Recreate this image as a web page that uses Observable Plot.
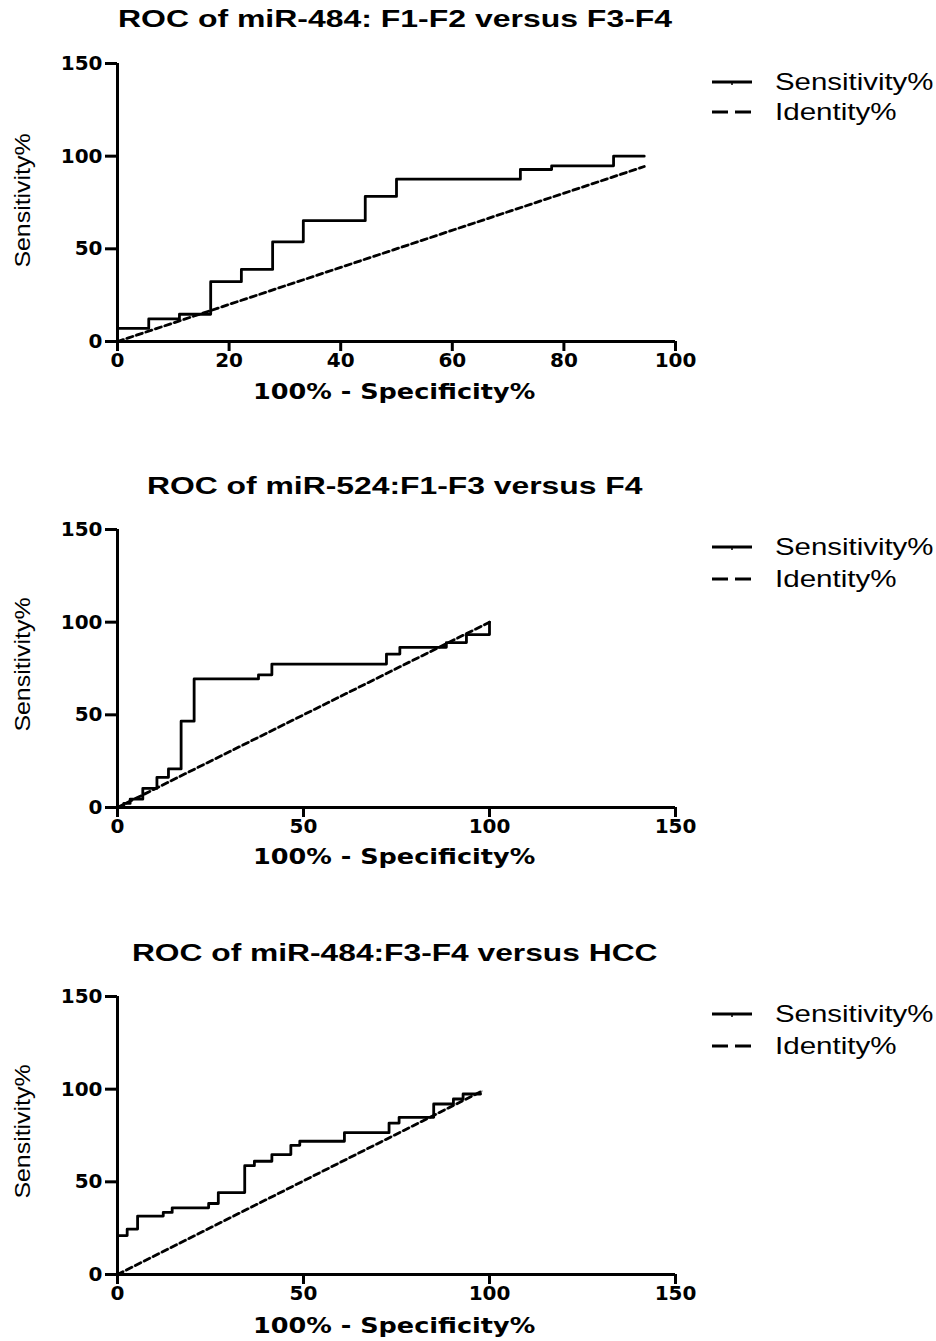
<!DOCTYPE html>
<html><head><meta charset="utf-8">
<script src="https://cdn.jsdelivr.net/npm/d3@7"></script>
<script src="https://cdn.jsdelivr.net/npm/@observablehq/plot@0.6"></script>
<style>
body{margin:0;background:#fff;}
#root{position:relative;width:936px;height:1341px;overflow:hidden;background:#fff;}
.plot{position:absolute;left:0;}
.lbl{position:absolute;white-space:nowrap;line-height:1;color:#000;}
</style></head><body><div id="root"></div>
<script>
// ---------- data ----------
const titles = [
  "ROC of miR-484: F1-F2 versus F3-F4",
  "ROC of miR-524:F1-F3 versus F4",
  "ROC of miR-484:F3-F4 versus HCC"
];
const xLabel = "100% - Specificity%";
const yLabel = "Sensitivity%";
const legendLabels = ["Sensitivity%", "Identity%"];
const xTicks1 = [0, 20, 40, 60, 80, 100];
const xTicks23 = [0, 50, 100, 150];
const yTicks = [0, 50, 100, 150];

const sens1X = [0, 0, 5.6, 11.1, 16.7, 22.2, 27.8, 33.3, 44.4, 50.0, 72.2, 77.8, 88.9, 94.4];
const sens1Y = [0, 7.1, 12.2, 14.7, 32.3, 38.9, 53.8, 65.2, 78.3, 87.6, 92.8, 94.8, 100, 100];
const ident1X = [0, 94.4];
const ident1Y = [0, 94.4];

const sens2X = [0, 1.7, 3.4, 6.8, 10.6, 13.7, 17.1, 20.6, 37.9, 41.5, 72.3, 75.9, 88.4, 93.8, 100, 100];
const sens2Y = [0, 2.2, 4.5, 10.3, 16.3, 20.8, 46.6, 69.4, 71.6, 77.4, 82.8, 86.4, 89.0, 93.3, 93.3, 100];
const ident2X = [0, 100];
const ident2Y = [0, 100];

const sens3X = [0, 0, 2.6, 5.4, 12.3, 14.7, 24.5, 27.1, 34.2, 36.8, 41.5, 46.6, 49.0, 61.0, 73.0, 75.7, 85.0, 90.3, 92.9, 97.6];
const sens3Y = [0, 21.0, 24.5, 31.5, 33.5, 36.0, 38.3, 44.2, 58.7, 61.1, 64.7, 69.7, 71.9, 76.5, 81.7, 84.8, 92.0, 94.7, 97.4, 97.4];
const ident3X = [0, 98];
const ident3Y = [0, 99];

// ---------- layout ----------
const panels = [
  {sx: sens1X, sy: sens1Y, ix: ident1X, iy: ident1Y, xMax: 100, xTicks: xTicks1,
   top: 33, titleY: 19, titleX: [118, 672], xLabelY: 392, yLabelY: 200, legY: [82, 112]},
  {sx: sens2X, sy: sens2Y, ix: ident2X, iy: ident2Y, xMax: 150, xTicks: xTicks23,
   top: 499, titleY: 486, titleX: [147, 642], xLabelY: 857, yLabelY: 664, legY: [547, 579]},
  {sx: sens3X, sy: sens3Y, ix: ident3X, iy: ident3Y, xMax: 150, xTicks: xTicks23,
   top: 966, titleY: 953, titleX: [132, 657], xLabelY: 1326, yLabelY: 1131, legY: [1014, 1046]}
];

const root = document.getElementById("root");

function addLabel(text, opts) {
  const d = document.createElement("div");
  d.className = "lbl";
  d.textContent = text;
  d.style.fontFamily = opts.font;
  d.style.fontSize = opts.size + "px";
  d.style.fontWeight = opts.weight || "normal";
  root.appendChild(d);
  const w = d.offsetWidth, h = d.offsetHeight;
  const s = opts.width ? opts.width / w : 1;
  const sy = opts.sy || 1;
  if (opts.rotate) {
    d.style.left = (opts.cx - w / 2) + "px";
    d.style.top = (opts.cy - h / 2) + "px";
    d.style.transform = `rotate(-90deg) scale(${s}, ${sy})`;
  } else if (opts.anchor === "start") {
    d.style.left = opts.x + "px";
    d.style.top = (opts.cy - h / 2) + "px";
    d.style.transformOrigin = "left center";
    d.style.transform = `scale(${s}, ${sy})`;
  } else {
    d.style.left = (opts.cx - w / 2) + "px";
    d.style.top = (opts.cy - h / 2) + "px";
    d.style.transform = `scale(${s}, ${sy})`;
  }
  return d;
}

function legendSample(y, dashed) {
  const ns = "http://www.w3.org/2000/svg";
  const svg = document.createElementNS(ns, "svg");
  svg.setAttribute("width", 50); svg.setAttribute("height", 12);
  svg.style.position = "absolute";
  svg.style.left = "708px";
  svg.style.top = (y - 6) + "px";
  const line = document.createElementNS(ns, "line");
  line.setAttribute("x1", 4); line.setAttribute("x2", 44);
  line.setAttribute("y1", 6); line.setAttribute("y2", 6);
  line.setAttribute("stroke", "#000");
  line.setAttribute("stroke-width", 2.8);
  if (dashed) line.setAttribute("stroke-dasharray", "16,7");
  svg.appendChild(line);
  if (!dashed) {
    const t = document.createElementNS(ns, "line");
    t.setAttribute("x1", 24); t.setAttribute("x2", 24);
    t.setAttribute("y1", 6); t.setAttribute("y2", 9);
    t.setAttribute("stroke", "#000"); t.setAttribute("stroke-width", 1.5);
    svg.appendChild(t);
  }
  root.appendChild(svg);
}

panels.forEach((p, i) => {
  const sens = p.sx.map((x, k) => ({x, y: p.sy[k]}));
  const ident = p.ix.map((x, k) => ({x, y: p.iy[k]}));
  const chart = Plot.plot({
    width: 936, height: 368,
    marginLeft: 117, marginRight: 261, marginTop: 30, marginBottom: 60,
    x: {domain: [0, p.xMax], label: null},
    y: {domain: [0, 150], label: null},
    style: {fontFamily: "DejaVu Sans", fontSize: "20px", fontWeight: "bold", background: "transparent", color: "#000", overflow: "visible"},
    marks: [
      Plot.line(ident, {x: "x", y: "y", stroke: "#c4c4c4", strokeWidth: 2}),
      Plot.line(ident, {x: "x", y: "y", stroke: "#000", strokeWidth: 2.8, strokeDasharray: "6,4"}),
      Plot.line(sens, {x: "x", y: "y", curve: "step-after", stroke: "#000", strokeWidth: 2.8}),
      Plot.axisX({ticks: p.xTicks, tickSize: 10, tickPadding: 1, strokeWidth: 3, label: null}),
      Plot.axisY({ticks: yTicks, tickSize: 12, tickPadding: 3, strokeWidth: 3, label: null}),
      Plot.ruleY([0], {strokeWidth: 3}),
      Plot.ruleX([0], {strokeWidth: 3})
    ]
  });
  chart.classList.add("plot");
  chart.style.top = p.top + "px";
  root.appendChild(chart);

  addLabel(titles[i], {font: "Liberation Sans", size: 24, weight: "bold",
    cx: (p.titleX[0] + p.titleX[1]) / 2, cy: p.titleY, width: p.titleX[1] - p.titleX[0]});
  addLabel(xLabel, {font: "DejaVu Sans", size: 21, weight: "bold",
    cx: 394, cy: p.xLabelY, width: 282});
  addLabel(yLabel, {font: "Liberation Sans", size: 21, rotate: true,
    cx: 22, cy: p.yLabelY, width: 134, sy: 1.05});
  legendSample(p.legY[0], false);
  legendSample(p.legY[1], true);
  addLabel(legendLabels[0], {font: "Liberation Sans", size: 24, anchor: "start",
    x: 775, cy: p.legY[0], width: 158});
  addLabel(legendLabels[1], {font: "Liberation Sans", size: 24, anchor: "start",
    x: 775, cy: p.legY[1], width: 122});
});
</script>
</body></html>
